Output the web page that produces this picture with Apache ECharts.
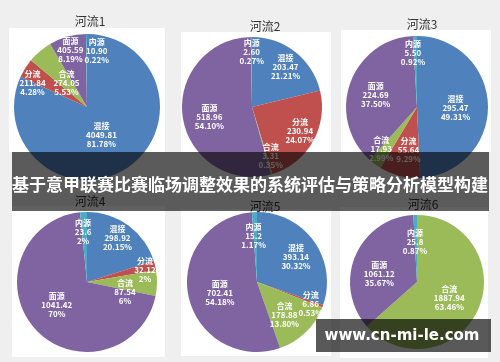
<!DOCTYPE html>
<html><head><meta charset="utf-8">
<script src="https://cdn.jsdelivr.net/npm/echarts@6/dist/echarts.min.js"></script>
<style>html,body{margin:0;padding:0;background:#efefef}#c{width:500px;height:362px}</style>
</head><body><div id="c"></div>
<script>
// ---- data ----
const categories = ['混接', '分流', '合流', '面源', '内源'];
const titles = ['河流1', '河流2', '河流3', '河流4', '河流5', '河流6'];
const river1 = [4049.81, 211.84, 274.05, 405.59, 10.90];
const river2 = [203.47, 230.94, 3.31, 518.96, 2.60];
const river3 = [295.47, 55.64, 17.93, 224.69, 5.50];
const river4 = [298.92, 32.12, 87.54, 1041.42, 23.6];
const river5 = [393.14, 6.86, 178.88, 702.41, 15.2];
const river6 = [0, 0, 1887.94, 1061.12, 25.8];
const pct1 = ['81.78%', '4.28%', '5.53%', '8.19%', '0.22%'];
const pct2 = ['21.21%', '24.07%', '0.35%', '54.10%', '0.27%'];
const pct3 = ['49.31%', '9.29%', '2.99%', '37.50%', '0.92%'];
const pct4 = ['20.15%', '2%', '6%', '70%', '2%'];
const pct5 = ['30.32%', '0.53%', '13.80%', '54.18%', '1.17%'];
const pct6 = ['', '', '63.46%', '35.67%', '0.87%'];
const decimals = [2, 2, 2, null, null, null];
const bannerText = '基于意甲联赛比赛临场调整效果的系统评估与策略分析模型构建';
const watermarkText = 'www.cn-mi-le.com';

// ---- layout / style ----
const colors = ['#4F81BD', '#C0504D', '#9BBB59', '#8064A2', '#4BACC6'];
const rivers = [river1, river2, river3, river4, river5, river6];
const pcts = [pct1, pct2, pct3, pct4, pct5, pct6];
const pies = [[87, 107, 73], [252, 107, 70], [417, 107, 71], [87, 282, 70], [257, 282, 70], [417, 282, 67]];
const titlePos = [[85, 10], [260, 15], [417, 13], [85, 190], [260, 195], [418, 193]];
const panels = [[9, 28, 156, 124], [181, 32, 150, 120], [341, 30, 150, 122], [12, 206, 153, 151], [181, 209, 150, 147], [340, 207, 148, 151]];
const offsets = [
  [[-7, -5], [-21, -3], [5, 6], [-6, -19], [10, -17]],
  [[10, -10], [15, 5], [8, 12], [-5, 4], [0, -17]],
  [[0, 2], [1, 6], [-13, 11], [-5, 1], [-3, -16]],
  [[8, -13], [21, -3], [0, 9], [-2, -3], [-2, -12]],
  [[8, -3], [18, 9], [1, 6], [0, 3], [-2, -8]],
  [[0, 0], [0, 0], [-1, 1], [-4, 6], [-1, -4]]
];

const series = rivers.map((vals, p) => ({
  type: 'pie',
  center: [pies[p][0], pies[p][1]],
  radius: [0, pies[p][2]],
  startAngle: 90,
  clockwise: true,
  silent: true,
  animation: false,
  data: vals.map((v, i) => ({
    name: categories[i],
    value: v,
    itemStyle: { color: colors[i] },
    label: { show: v > 0 }
  })),
  label: {
    show: true,
    position: 'inside',
    color: '#fff',
    fontSize: 8,
    fontWeight: 'bold',
    lineHeight: 9,
    fontFamily: 'Noto Sans CJK SC',
    formatter: (prm) => {
      const d = decimals[p];
      const vs = d == null ? String(prm.value) : prm.value.toFixed(d);
      return prm.name + '\n' + vs + '\n' + pcts[p][prm.dataIndex];
    }
  },
  labelLine: { show: false },
  labelLayout: (prm) => ({ dx: offsets[p][prm.dataIndex][0], dy: offsets[p][prm.dataIndex][1] })
}));

const title = titles.map((t, i) => ({
  text: t,
  left: titlePos[i][0],
  top: titlePos[i][1],
  textAlign: 'center',
  textStyle: { fontSize: 12, fontWeight: 'normal', color: '#333', fontFamily: 'Noto Sans CJK SC' }
}));

const elements = panels.map(r => ({
  type: 'rect', z: -10, silent: true,
  shape: { x: r[0], y: r[1], width: r[2], height: r[3] },
  style: { fill: '#ffffff' }
}));
elements.push({
  type: 'rect', z: 100, silent: true,
  shape: { x: 12, y: 152, width: 477, height: 59 },
  style: { fill: 'rgba(0,0,0,0.62)' }
});
elements.push({
  type: 'text', z: 101, silent: true,
  x: 250, y: 185,
  style: { text: bannerText, fill: '#fff', font: 'bold 17px "Noto Sans CJK SC"', align: 'center', verticalAlign: 'middle' }
});
elements.push({
  type: 'rect', z: 100, silent: true,
  shape: { x: 316, y: 319, width: 175, height: 33 },
  style: { fill: 'rgba(0,0,0,0.65)' }
});
elements.push({
  type: 'text', z: 101, silent: true,
  x: 402, y: 336,
  style: { text: watermarkText, fill: '#fff', font: 'bold 15px "DejaVu Sans"', align: 'center', verticalAlign: 'middle' }
});

const chart = echarts.init(document.getElementById('c'), null, { renderer: 'canvas' });
chart.setOption({
  backgroundColor: '#efefef',
  animation: false,
  title,
  graphic: { elements },
  series
});
</script></body></html>
